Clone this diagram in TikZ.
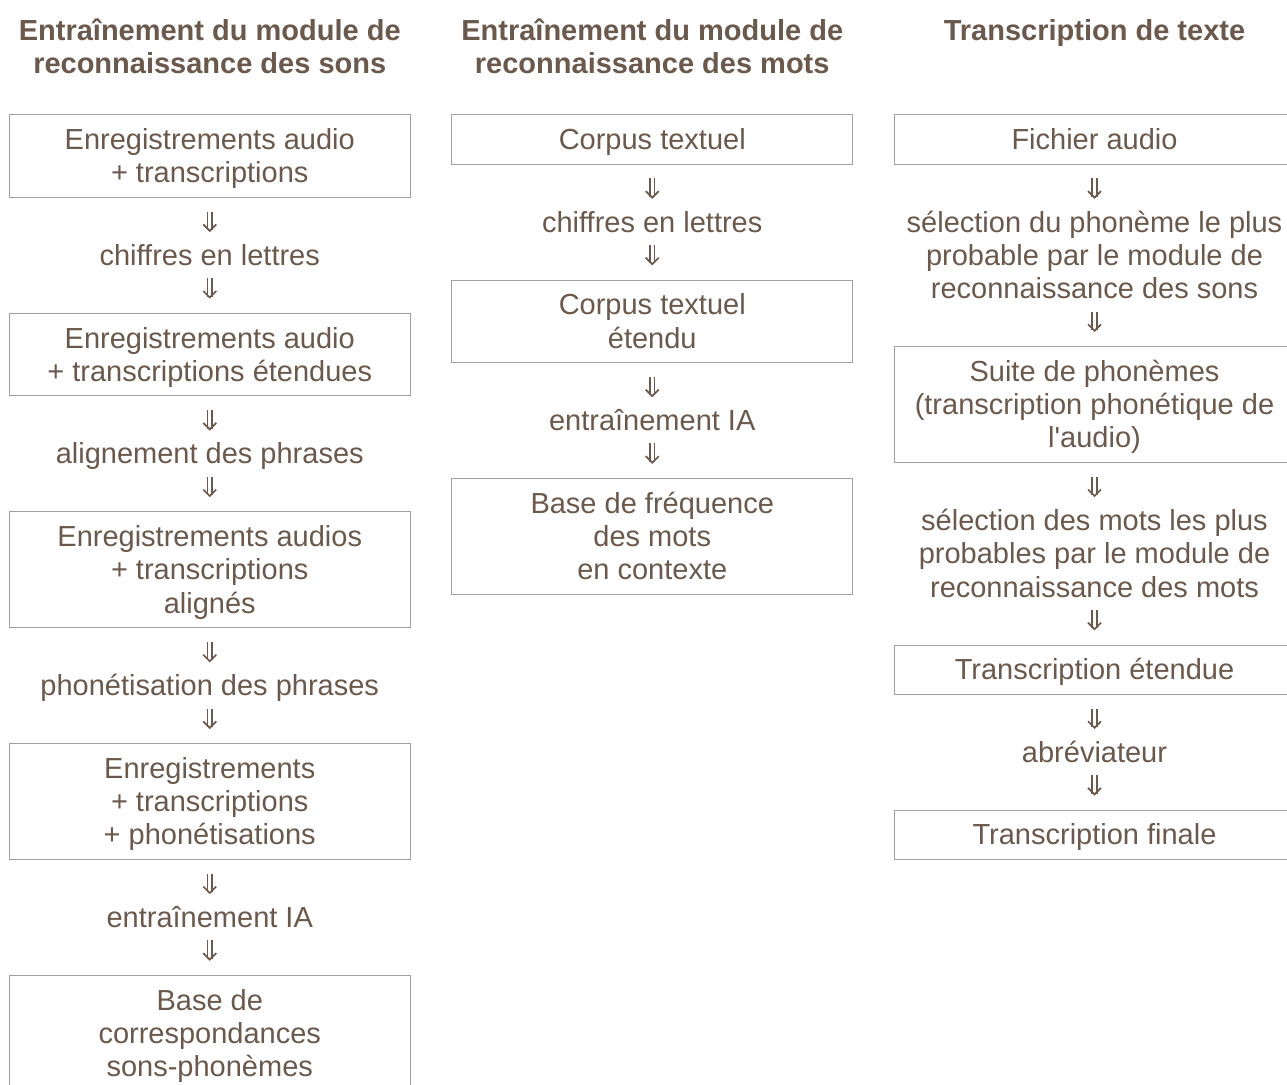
\documentclass[tikz,border=0pt]{standalone}
\usepackage{fontspec}
\setmainfont{Liberation Sans}[Ligatures=TeXOff]
\usetikzlibrary{positioning,arrows.meta}
\definecolor{txt}{HTML}{6A594C}
\definecolor{frame}{HTML}{A0A0A0}
\newcommand\ls{\rule[-6.6pt]{0pt}{33.3pt}}
\begin{document}
\begin{tikzpicture}[x=1pt,y=-1pt,
  basic/.style={text=txt, font=\fontsize{29}{33.3}\selectfont, align=center,
    inner xsep=0pt, inner ysep=0pt, outer sep=0pt},
  ttl/.style={basic, font=\fontsize{29}{33.3}\selectfont\bfseries},
  box/.style={basic, draw=frame, line width=1pt, minimum width=401pt, inner ysep=8pt},
  lbl/.style={basic},
  dbl/.style={draw=txt, double=white, double distance=2.8pt, line width=1.7pt,
    -{Straight Barb[length=6.5pt,width=13pt,line width=1.7pt]}},
  node distance=41.3pt
]
\clip (0,0) rectangle (1287,1084);
\fill[white] (0,0) rectangle (1287,1084);

% column 1
\node[ttl, anchor=north] (t1) at (209.75,13.3) {\ls Entraînement du module de\\\ls reconnaissance des sons};
\node[box, anchor=north] (b11) at (209.75,114.8) {\ls Enregistrements audio\\\ls + transcriptions};
\node[lbl, below=of b11] (l11) {\ls chiffres en lettres};
\node[box, below=of l11] (b12) {\ls Enregistrements audio\\\ls + transcriptions étendues};
\node[lbl, below=of b12] (l12) {\ls alignement des phrases};
\node[box, below=of l12] (b13) {\ls Enregistrements audios\\\ls + transcriptions\\\ls alignés};
\node[lbl, below=of b13] (l13) {\ls phonétisation des phrases};
\node[box, below=of l13] (b14) {\ls Enregistrements\\\ls + transcriptions\\\ls + phonétisations};
\node[lbl, below=of b14] (l14) {\ls entraînement IA};
\node[box, below=of l14] (b15) {\ls Base de\\\ls correspondances\\\ls sons-phonèmes};

% column 2
\node[ttl, anchor=north] (t2) at (652.25,13.3) {\ls Entraînement du module de\\\ls reconnaissance des mots};
\node[box, anchor=north] (b21) at (652.25,114.8) {\ls Corpus textuel};
\node[lbl, below=of b21] (l21) {\ls chiffres en lettres};
\node[box, below=of l21] (b22) {\ls Corpus textuel\\\ls étendu};
\node[lbl, below=of b22] (l22) {\ls entraînement IA};
\node[box, below=of l22] (b23) {\ls Base de fréquence\\\ls des mots\\\ls en contexte};

% column 3
\node[ttl, anchor=north] (t3) at (1094.5,13.3) {\ls Transcription de texte};
\node[box, anchor=north] (b31) at (1094.5,114.8) {\ls Fichier audio};
\node[lbl, below=of b31] (l31) {\ls sélection du phonème le plus\\\ls probable par le module de\\\ls reconnaissance des sons};
\node[box, below=of l31] (b32) {\ls Suite de phonèmes\\\ls (transcription phonétique de\\\ls l'audio)};
\node[lbl, below=of b32] (l32) {\ls sélection des mots les plus\\\ls probables par le module de\\\ls reconnaissance des mots};
\node[box, below=of l32] (b33) {\ls Transcription étendue};
\node[lbl, below=of b33] (l33) {\ls abréviateur};
\node[box, below=of l33] (b34) {\ls Transcription finale};

% connectors
\foreach \b/\l in {b11/l11,b12/l12,b13/l13,b14/l14,b21/l21,b22/l22,b31/l31,b32/l32,b33/l33}
  \draw[dbl] ([yshift=-14.2pt]\b.south) -- ([yshift=6.6pt]\l.north);
\foreach \l/\b in {l11/b12,l12/b13,l13/b14,l14/b15,l21/b22,l22/b23,l31/b32,l32/b33,l33/b34}
  \draw[dbl] ([yshift=-6.2pt]\l.south) -- ([yshift=14.6pt]\b.north);
\end{tikzpicture}
\end{document}
